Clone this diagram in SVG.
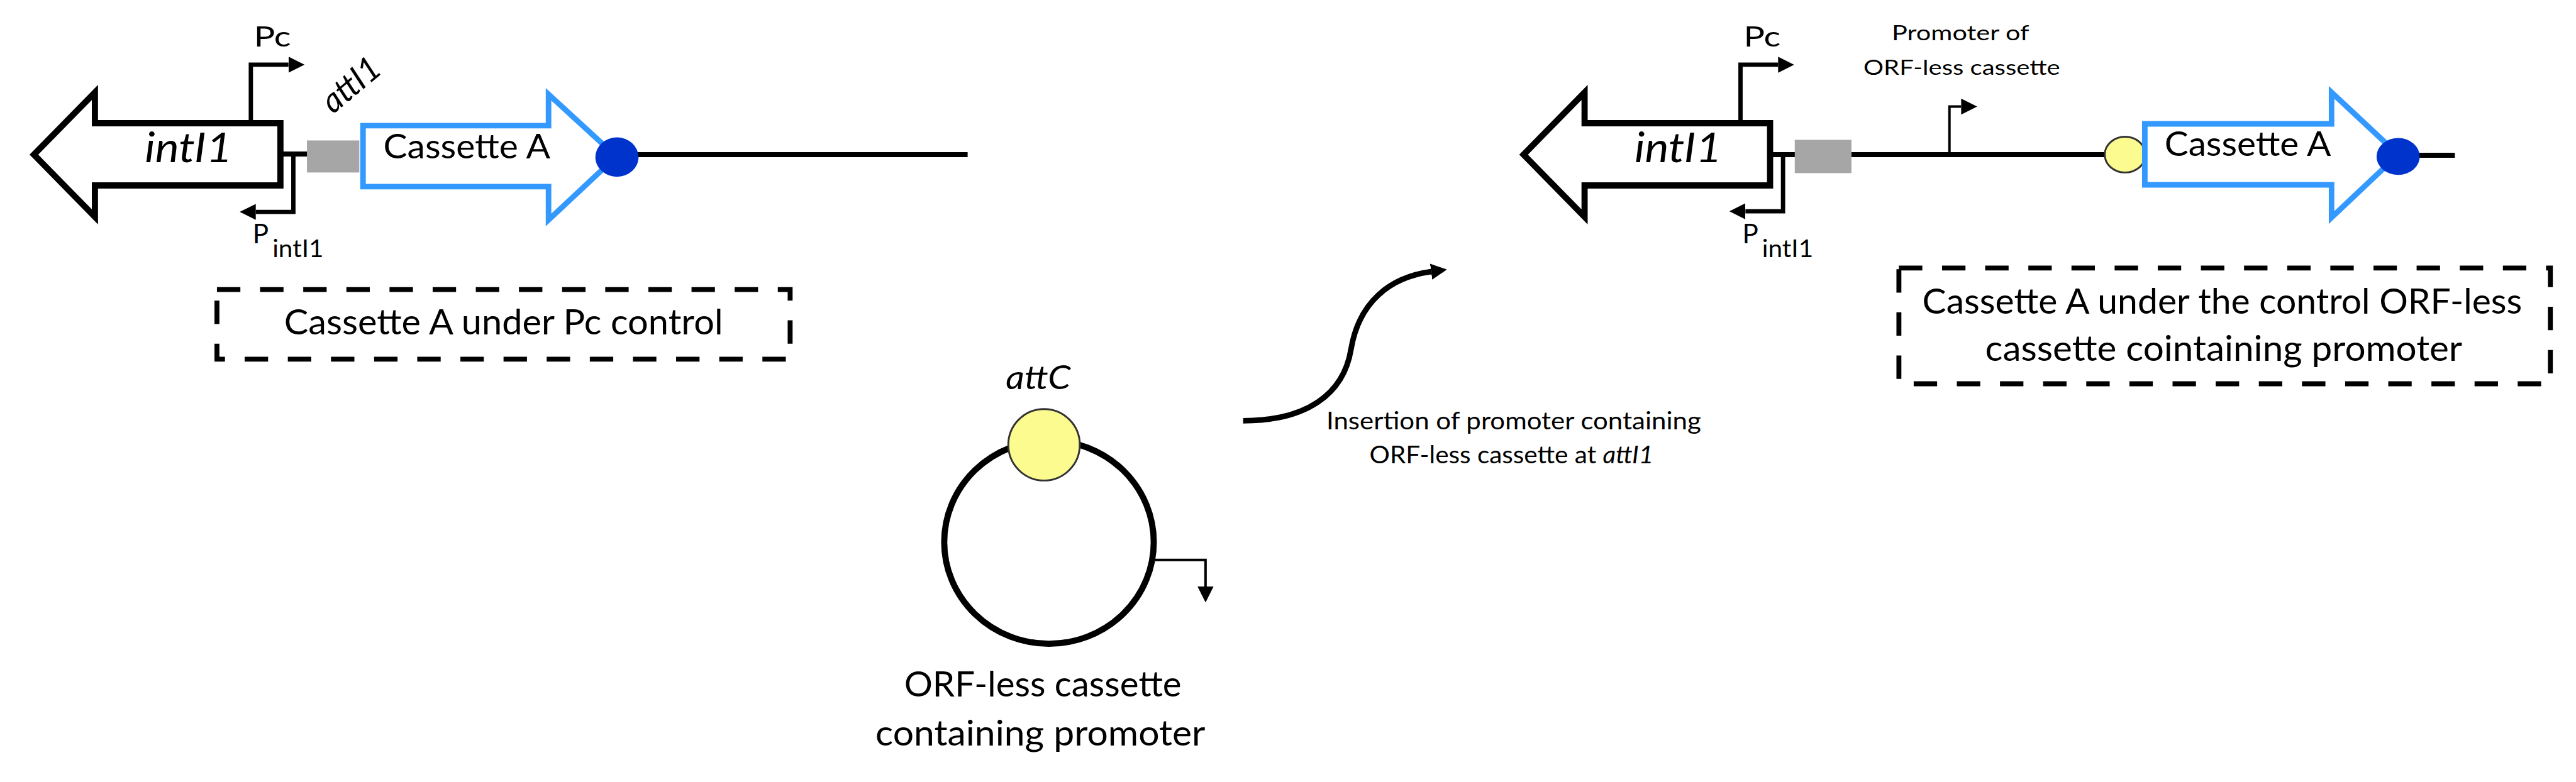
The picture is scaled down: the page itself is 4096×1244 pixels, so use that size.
<svg xmlns="http://www.w3.org/2000/svg" width="4096" height="1244" viewBox="0 0 4096 1244">
<style>
text{font-family:Lato,"Liberation Sans",Arial,sans-serif;fill:#000}
.it{font-style:italic}
.gene{fill:#fff;stroke:#000;stroke-width:10;stroke-linejoin:miter}
.cas{fill:#fff;stroke:#3399ff;stroke-width:9;stroke-linejoin:miter}
.bb{stroke:#000;stroke-width:8;fill:none}
.prom{stroke:#000;stroke-width:7;fill:none;marker-end:url(#ah)}
.thin{stroke-width:4}
.att{fill:#a6a6a6}
.dot{fill:#0033cc}
.yel{fill:#fbfb8f;stroke:#333;stroke-width:3}
.box{fill:none;stroke:#000;stroke-width:8;stroke-dasharray:38 32}
.ring{fill:none;stroke:#000;stroke-width:10}
</style>
<defs>
<marker id="ah" markerUnits="userSpaceOnUse" viewBox="0 0 26 26" markerWidth="26" markerHeight="26" refX="0" refY="13" orient="auto"><path d="M0,0 L26,13 L0,26 z" fill="#000"/></marker>
</defs>
<rect width="4096" height="1244" fill="#fff"/>
<g transform="scale(0.98)">
<g id="connectors">
<path class="bb" d="M455,250 H500"/>
<path class="bb" d="M1001,251 H1570"/>
<path class="bb" d="M2872,251 H2914"/>
<path class="bb" d="M3004,251 H3416"/>
<path class="bb" d="M3891,252 H3983"/>
<path d="M2017,683 C2120,683 2180,640 2192,567 C2205,490 2255,450 2322,441" fill="none" stroke="#000" stroke-width="9" marker-end="url(#ah)"/>
</g>
<g id="construct-left">
<g id="intI1-left">
<polygon class="gene" points="55,251 154,150 154,200 455,200 455,301 154,301 154,352"/>
<text class="it" x="235" y="263" font-size="68" textLength="142" lengthAdjust="spacingAndGlyphs">intI1</text>
</g>
<g id="Pc-left">
<path class="prom" d="M407,200 V105 H468"/>
<text x="412" y="75" font-size="45" textLength="60" lengthAdjust="spacingAndGlyphs">Pc</text>
</g>
<g id="Pint-left">
<path class="prom" d="M476,250 V344 H415"/>
<text x="410" y="395" font-size="43">P<tspan x="442" y="417" font-size="40" textLength="83" lengthAdjust="spacingAndGlyphs">intI1</tspan></text>
</g>
<g id="attI1-left">
<rect class="att" x="498" y="228" width="85" height="52"/>
<text class="it" transform="translate(569,137) rotate(-40)" x="0" y="19" font-size="55" text-anchor="middle" textLength="107" lengthAdjust="spacingAndGlyphs">attI1</text>
</g>
<g id="cassetteA-left">
<polygon class="cas" points="589,204 890,204 890,153 1000,254 890,357 890,303 589,303"/>
<text x="622" y="257" font-size="56" textLength="271" lengthAdjust="spacingAndGlyphs">Cassette A</text>
<ellipse class="dot" cx="1001" cy="255" rx="35" ry="32"/>
</g>
</g>
<g id="label-left">
<rect class="box" x="352" y="470" width="930" height="113"/>
<text x="461" y="543" font-size="57" textLength="712" lengthAdjust="spacingAndGlyphs">Cassette A under Pc control</text>
</g>
<g id="orfless-cassette">
<ellipse class="ring" cx="1702" cy="880" rx="170" ry="165"/>
<circle class="yel" cx="1694" cy="722" r="58"/>
<text class="it" x="1632" y="632" font-size="54" textLength="105" lengthAdjust="spacingAndGlyphs">attC</text>
<path class="prom thin" d="M1874,909 H1956 V952"/>
<text x="1692" y="1131" font-size="57" text-anchor="middle" textLength="450" lengthAdjust="spacingAndGlyphs">ORF-less cassette</text>
<text x="1688" y="1210" font-size="57" text-anchor="middle" textLength="535" lengthAdjust="spacingAndGlyphs">containing promoter</text>
</g>
<g id="insertion-label">
<text x="2152" y="697" font-size="39" textLength="608" lengthAdjust="spacingAndGlyphs">Insertion of promoter containing</text>
<text x="2222" y="752" font-size="39" textLength="461" lengthAdjust="spacingAndGlyphs">ORF-less cassette at <tspan class="it">attI1</tspan></text>
</g>
<g id="construct-right">
<g id="intI1-right">
<polygon class="gene" points="2472,251 2571,150 2571,200 2872,200 2872,301 2571,301 2571,352"/>
<text class="it" x="2652" y="263" font-size="68" textLength="142" lengthAdjust="spacingAndGlyphs">intI1</text>
</g>
<g id="Pc-right">
<path class="prom" d="M2824,200 V105 H2885"/>
<text x="2829" y="75" font-size="45" textLength="60" lengthAdjust="spacingAndGlyphs">Pc</text>
</g>
<g id="Pint-right">
<path class="prom" d="M2893,251 V343 H2832"/>
<text x="2827" y="395" font-size="43">P<tspan x="2859" y="417" font-size="40" textLength="83" lengthAdjust="spacingAndGlyphs">intI1</tspan></text>
</g>
<g id="attI1-right">
<rect class="att" x="2912" y="227" width="92" height="54"/>
</g>
<g id="promoter-orfless">
<path class="prom thin" d="M3163,251 V173 H3182"/>
<text x="3181" y="65" font-size="34" text-anchor="middle" textLength="223" lengthAdjust="spacingAndGlyphs">Promoter of</text>
<text x="3183" y="121" font-size="34" text-anchor="middle" textLength="319" lengthAdjust="spacingAndGlyphs">ORF-less cassette</text>
</g>
<g id="attC-right">
<ellipse class="yel" cx="3448" cy="251" rx="33" ry="29"/>
</g>
<g id="cassetteA-right">
<polygon class="cas" points="3480,201 3783,201 3783,150 3891,251 3783,353 3783,300 3480,300"/>
<text x="3512" y="253" font-size="56" textLength="270" lengthAdjust="spacingAndGlyphs">Cassette A</text>
<ellipse class="dot" cx="3891" cy="254" rx="35" ry="30"/>
</g>
</g>
<g id="label-right">
<rect class="box" x="3081" y="435" width="1057" height="188"/>
<text x="3119" y="509" font-size="58" textLength="973" lengthAdjust="spacingAndGlyphs">Cassette A under the control ORF-less</text>
<text x="3221" y="586" font-size="58" textLength="774" lengthAdjust="spacingAndGlyphs">cassette cointaining promoter</text>
</g>
</g>
</svg>
